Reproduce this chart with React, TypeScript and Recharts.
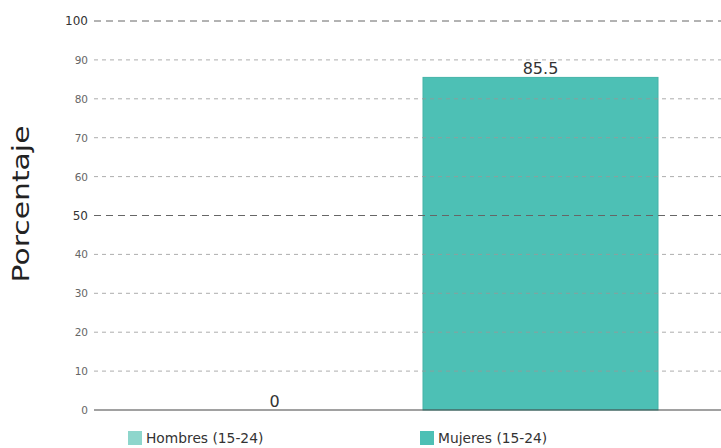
import React from 'react';
import { BarChart, Bar, XAxis, YAxis, Legend, ReferenceLine } from 'recharts';

const categories = ['15-24'];
const hombres = [0];
const mujeres = [85.5];
const seriesNames = ['Hombres (15-24)', 'Mujeres (15-24)'];
const seriesColors = ['#8ed6cc', '#4dc0b5'];
const yTicks = [0, 10, 20, 30, 40, 50, 60, 70, 80, 90, 100];
const majorTicks = [50, 100];

const data = categories.map((c, i) => ({ name: c, hombres: hombres[i], mujeres: mujeres[i] }));

const FONT = '"DejaVu Sans", sans-serif';

const YTick = (props: any) => {
  const { x, y, payload } = props;
  const major = majorTicks.includes(payload.value);
  return (
    <text
      x={x + 2}
      y={y}
      dy={4}
      textAnchor="end"
      fontFamily={FONT}
      fontSize={major ? 12 : 10.5}
      fill={major ? '#333' : '#666'}
    >
      {payload.value}
    </text>
  );
};

const YLabel = () => {
  const x = 29;
  const cy = 204;
  return (
    <text
      x={x}
      y={cy}
      transform={`rotate(-90, ${x}, ${cy})`}
      textAnchor="middle"
      fontFamily={FONT}
      fontSize={23}
      textLength={157}
      lengthAdjust="spacingAndGlyphs"
      fill="#222"
    >
      Porcentaje
    </text>
  );
};

// bar + its value drawn together so a zero-height bar still gets its label
const BarWithValue = (props: any) => {
  const { x, y, width, height, fill, stroke, value } = props;
  const v = Array.isArray(value) ? value[1] - value[0] : value;
  return (
    <g>
      {height > 0 && <rect x={x} y={y} width={width} height={height} fill={fill} stroke={stroke} />}
      <text x={x + width / 2} y={y - 3} textAnchor="middle" fontFamily={FONT} fontSize={16} fill="#333">
        {v}
      </text>
    </g>
  );
};

const LegendContent = () => {
  const lefts = [128, 420];
  return (
    <div style={{ position: 'relative', height: 38, fontFamily: FONT, fontSize: 13.8, color: '#333' }}>
      {seriesNames.map((n, i) => (
        <div key={n} style={{ position: 'absolute', left: lefts[i], top: 20, display: 'flex', alignItems: 'center' }}>
          <span style={{ width: 14, height: 14, background: seriesColors[i], display: 'inline-block', marginRight: 4 }} />
          <span>{n}</span>
        </div>
      ))}
    </div>
  );
};

export default function App() {
  return (
    <div style={{ position: 'absolute', left: 0, top: 0 }}>
      <BarChart
        width={721}
        height={448}
        data={data}
        margin={{ top: 21, right: 0, left: 0, bottom: 0 }}
        barSize={235}
        barGap={31}
      >
        <XAxis dataKey="name" hide />
        <YAxis
          width={94}
          domain={[0, 100]}
          ticks={yTicks}
          tick={<YTick />}
          tickLine={false}
          axisLine={false}
          label={<YLabel />}
        />
        {yTicks.filter((t) => t > 0 && !majorTicks.includes(t)).map((t) => (
          <ReferenceLine key={t} y={t} stroke="#999" strokeOpacity={0.8} strokeDasharray="4 4" />
        ))}
        {majorTicks.map((t) => (
          <ReferenceLine key={t} y={t} stroke="#666" strokeDasharray="7 5" />
        ))}
        <ReferenceLine y={0} stroke="#444" strokeWidth={1.2} />
        <Bar dataKey="hombres" name={seriesNames[0]} fill={seriesColors[0]} isAnimationActive={false} shape={<BarWithValue />} />
        <Bar dataKey="mujeres" name={seriesNames[1]} fill={seriesColors[1]} stroke="#45b3a8" isAnimationActive={false} shape={<BarWithValue />} />
        <Legend verticalAlign="bottom" height={38} content={<LegendContent />} />
      </BarChart>
    </div>
  );
}
